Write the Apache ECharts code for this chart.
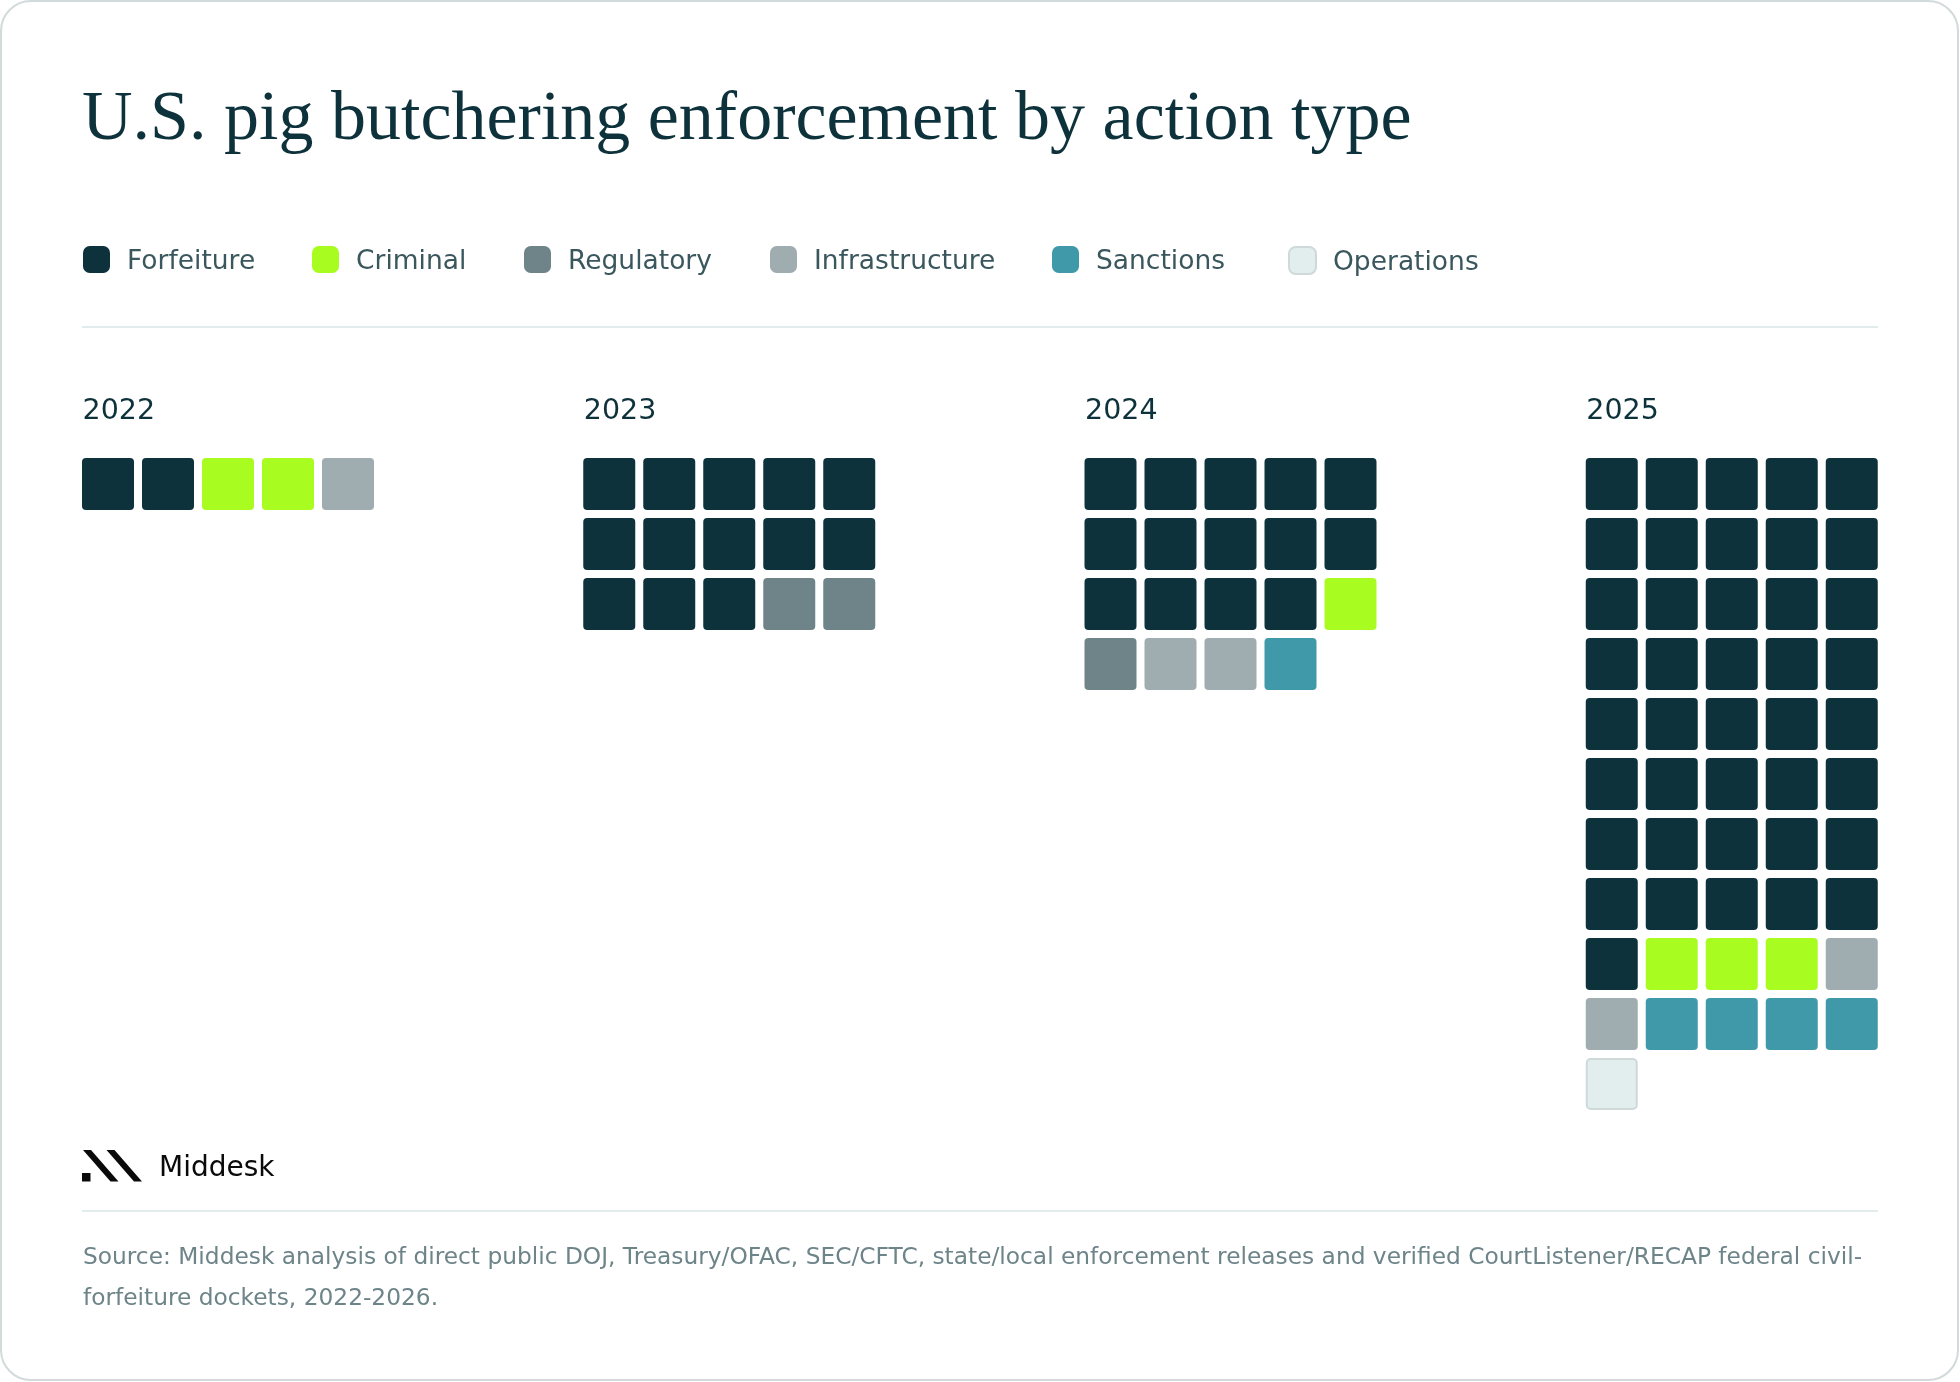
<!DOCTYPE html>
<html>
<head>
<meta charset="utf-8">
<script src="https://cdn.jsdelivr.net/npm/echarts@6/dist/echarts.min.js"></script>
<style>
html,body{margin:0;padding:0;background:#ffffff;}
#chart{width:1960px;height:1382px;}
</style>
</head>
<body>
<div id="chart"></div>
<script>
// ---- data ----
const years = ['2022', '2023', '2024', '2025'];
const types = ['Forfeiture', 'Criminal', 'Regulatory', 'Infrastructure', 'Sanctions', 'Operations'];
const forfeiture = [2, 13, 14, 41];
const criminal = [2, 0, 1, 3];
const regulatory = [0, 2, 1, 0];
const infrastructure = [1, 0, 2, 2];
const sanctions = [0, 0, 1, 4];
const operations = [0, 0, 0, 1];
const colLabels = ['1', '2', '3', '4', '5'];
const rowLabels = ['1', '2', '3', '4', '5', '6', '7', '8', '9', '10', '11'];
const titleText = 'U.S. pig butchering enforcement by action type';
const sourceText = 'Source: Middesk analysis of direct public DOJ, Treasury/OFAC, SEC/CFTC, state/local enforcement releases and verified CourtListener/RECAP federal civil-\nforfeiture dockets, 2022-2026.';

// ---- styling ----
const counts = [forfeiture, criminal, regulatory, infrastructure, sanctions, operations];
const colors = ['#0e323b', '#a8fc1f', '#6e8489', '#9facb0', '#3f99a8', '#e2eeee'];
const borders = [null, null, null, null, null, '#cfd9da'];
const legendLeft = [83, 312, 524, 770, 1052, 1288];
const DARK = '#0e323b';
const SANS = 'DejaVu Sans';
const yearPitch = 501.25;
const firstLeft = 78;

const chart = echarts.init(document.getElementById('chart'), null, { renderer: 'canvas' });

const grids = [], xAxes = [], yAxes = [], series = [];
years.forEach((y, g) => {
  grids.push({ left: firstLeft + g * yearPitch, top: 454, width: 300, height: 660, containLabel: false });
  xAxes.push({ type: 'category', gridIndex: g, data: colLabels, show: false });
  yAxes.push({ type: 'category', gridIndex: g, data: rowLabels, inverse: true, show: false });
  let idx = 0;
  types.forEach((t, ti) => {
    const n = counts[ti][g];
    const data = [];
    for (let k = 0; k < n; k++) {
      data.push([idx % colLabels.length, Math.floor(idx / colLabels.length)]);
      idx++;
    }
    series.push({
      type: 'custom',
      name: t,
      xAxisIndex: g,
      yAxisIndex: g,
      data: data,
      itemStyle: { color: colors[ti] },
      silent: true,
      renderItem: function (params, api) {
        const c = api.coord([api.value(0), api.value(1)]);
        const s = api.size([1, 1]);
        const gap = 8;
        let w = s[0] - gap, h = s[1] - gap;
        let x = c[0] - w / 2, yy = c[1] - h / 2;
        const style = { fill: colors[ti] };
        if (borders[ti]) {
          style.stroke = borders[ti];
          style.lineWidth = 2;
          x += 1; yy += 1; w -= 2; h -= 2;
        }
        return { type: 'rect', shape: { x: x, y: yy, width: w, height: h, r: 4 }, style: style };
      }
    });
  });
});

const legends = types.map((t, ti) => ({
  left: legendLeft[ti],
  top: 246,
  itemWidth: 27,
  itemHeight: 27,
  selectedMode: false,
  padding: 0,
  data: [{
    name: t,
    icon: 'roundRect',
    itemStyle: borders[ti] ? { color: colors[ti], borderColor: borders[ti], borderWidth: 2 } : { color: colors[ti] }
  }],
  formatter: '{a|{name}}',
  textStyle: {
    fontFamily: SANS, fontSize: 26.5, color: '#3b575e', padding: [0, 0, 0, 12],
    rich: { a: { fontFamily: SANS, fontSize: 26.5, color: '#3b575e', padding: [6, 0, 0, 0] } }
  }
}));

const graphics = [
  { type: 'rect', silent: true, z: -10, shape: { x: 1, y: 1, width: 1957, height: 1379, r: 30 },
    style: { fill: '#ffffff', stroke: '#d3dadb', lineWidth: 2 } },
  { type: 'text', silent: true, style: { text: titleText, x: 82, y: 121, fill: DARK,
      font: 'normal 70px "Liberation Serif", serif', verticalAlign: 'middle', textVerticalAlign: 'middle' } },
  { type: 'rect', silent: true, shape: { x: 82, y: 326, width: 1796, height: 2 }, style: { fill: '#e2ecec' } },
  { type: 'rect', silent: true, shape: { x: 82, y: 1210, width: 1796, height: 2 }, style: { fill: '#e2ecec' } },
  // logo
  { type: 'rect', silent: true, shape: { x: 82, y: 1173, width: 8.5, height: 8.5 }, style: { fill: '#0a0a0a' } },
  { type: 'polygon', silent: true, shape: { points: [[83, 1150], [91, 1150], [118.5, 1181.5], [110.5, 1181.5]] }, style: { fill: '#0a0a0a' } },
  { type: 'polygon', silent: true, shape: { points: [[106.5, 1150], [114.5, 1150], [142, 1181.5], [134, 1181.5]] }, style: { fill: '#0a0a0a' } },
  { type: 'text', silent: true, style: { text: 'Middesk', x: 159, y: 1169, fill: '#0a0a0a',
      font: 'normal 28px "DejaVu Sans", sans-serif', verticalAlign: 'middle', textVerticalAlign: 'middle' } },
  { type: 'text', silent: true, style: { text: sourceText, x: 83, y: 1237.5, fill: '#6d8489', lineHeight: 41,
      font: 'normal 23.3px "DejaVu Sans", sans-serif', verticalAlign: 'top', textVerticalAlign: 'top' } }
];
years.forEach((y, g) => {
  graphics.push({ type: 'text', silent: true, style: { text: y, x: 82.5 + g * yearPitch, y: 412, fill: DARK,
    font: 'normal 28.5px "DejaVu Sans", sans-serif', verticalAlign: 'middle', textVerticalAlign: 'middle' } });
});

chart.setOption({
  animation: false,
  backgroundColor: '#ffffff',
  grid: grids,
  xAxis: xAxes,
  yAxis: yAxes,
  legend: legends,
  series: series,
  graphic: { elements: graphics }
});
</script>
</body>
</html>
